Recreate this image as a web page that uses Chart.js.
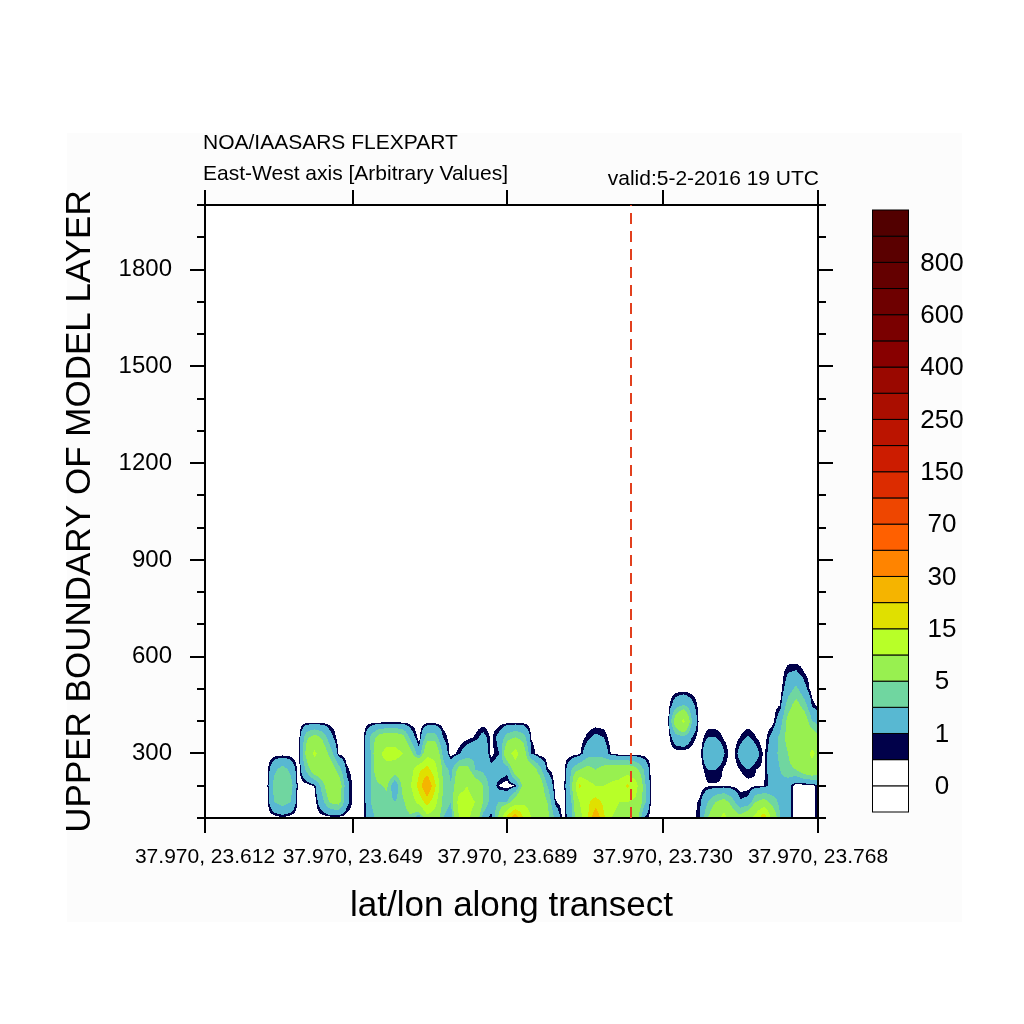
<!DOCTYPE html>
<html>
<head>
<meta charset="utf-8">
<script src="https://cdn.jsdelivr.net/npm/chart.js@4"></script>
<style>
  html, body { margin: 0; padding: 0; background: #fff; }
  canvas { display: block; }
</style>
</head>
<body>
<canvas id="transectChart" width="1024" height="1024"></canvas>
<script>
// altitude of each grid row (upper boundary of model layer)
const altitudes = [100, 150, 200, 250, 300, 350, 400, 450, 500, 550]

// concentration along the transect (78 grid columns) for every altitude row
const conc100 = [0,0,0,0,0,0,0,0,0,0, 0.3,0,0,0,0,0,0,0,0,0, 0,2.5,3.5,3.5,4,4,4.5,0.8,8,7,
  3,2,10,11,8,2,0.5,6,17,25, 15,10,8,6,2.5,0,2.5,8,14,25, 16,10,9,8,7,1,0,0,0,0,
  0,0,1,5,8,12,7,6,8,12, 19,8,3,1.5,0,0,0,1.4]
const conc150 = [0,0,0,0,0,0,0,0,0,3, 4,3,0,0,0,2.5,5.5,6,1.5,0, 0,3,4,4,3,4.5,7,12,17,12,
  4,3,12,12,10,5,2,3,3,7, 9,8,7,5,0.6,0,3,10,14,17, 14,11,10,10,9,4,0,0,0,0,
  0,0,0.7,3,5,6,4,1.2,1.5,5, 6,4,2.5,1.5,0,0,0,1.4]
const conc200 = [0,0,0,0,0,0,0,0,0,4, 4.5,4,0,0,0.6,4,8,7,1.5,0, 0,3,4.5,5.5,0.8,6,10,17,26,16,
  5,3,8,10,7,5,2,0.4,0,0.5, 6,8,7,3,0,0,4,16,12,10, 10,11,12,16,12,4,0,0,0,0,
  0,0,0,0.4,0.4,0.4,0.3,0,0.1,0.4, 0.5,1.5,2.5,1.5,0,0,0,1.4]
const conc250 = [0,0,0,0,0,0,0,0,0,2.5, 4,2.5,0,3.5,7,8,7,4,0.7,0, 0,3,8,8,7,7,8,14,17,12,
  4,2.5,6,6,3,2.5,1.5,2,1.5,7, 8,7,4,0.6,0,0,3,5,6,5, 6,7,7,7,6,3,0,0,0,0,
  0,0,0,1,1,0.4,0,0.5,1,0.5, 0.3,2,3,4.5,5,7,8,6]
const conc300 = [0,0,0,0,0,0,0,0,0,0, 0,0,0,6,11,7,4,0.3,0,0, 0,3,9,12,12,10,6,1.5,8,8,
  2.5,0,0.8,2,2.5,2.5,0.2,1,8,12, 7,1,0,0,0,0,0,0.3,2,2.5, 2,0.3,0,0,0,0,0,0,0,0,
  0,0,0,3,2.7,1.1,0,1.5,2.8,1.5, 0.3,2,3.5,5,7,8,11,8]
const conc350 = [0,0,0,0,0,0,0,0,0,0, 0,0,0,4.5,6,4.5,1.5,0,0,0, 0,3.5,6,7,7,6,2,0,4,4,
  1,0,0,0.2,0.6,1.5,0.3,1.5,4,5, 4,0.4,0,0,0,0,0,0,0.7,1.3, 1,0,0,0,0,0,0,0,0,2,
  2.5,1,0,1,1,0.4,0,0.5,1.1,0.5, 0,1.5,3.5,6,7,8,7,5]
const conc400 = [0,0,0,0,0,0,0,0,0,0, 0,0,0,0,0,0,0,0,0,0, 0,0,0,0,0,0,0,0,0,0,
  0,0,0,0,0,0,0,0,0,0, 0,0,0,0,0,0,0,0,0,0, 0,0,0,0,0,0,0,0,0,7,
  11,3,0,0,0,0,0,0,0,0, 0,0,2,6,7,7,3,2]
const conc450 = [0,0,0,0,0,0,0,0,0,0, 0,0,0,0,0,0,0,0,0,0, 0,0,0,0,0,0,0,0,0,0,
  0,0,0,0,0,0,0,0,0,0, 0,0,0,0,0,0,0,0,0,0, 0,0,0,0,0,0,0,0,0,2,
  3,1.5,0,0,0,0,0,0,0,0, 0,0,0.5,4,6,4,0.8,0]
const conc500 = [0,0,0,0,0,0,0,0,0,0, 0,0,0,0,0,0,0,0,0,0, 0,0,0,0,0,0,0,0,0,0,
  0,0,0,0,0,0,0,0,0,0, 0,0,0,0,0,0,0,0,0,0, 0,0,0,0,0,0,0,0,0,0,
  0,0,0,0,0,0,0,0,0,0, 0,0,0,2,3.5,1.5,0,0]
const conc550 = [0,0,0,0,0,0,0,0,0,0, 0,0,0,0,0,0,0,0,0,0, 0,0,0,0,0,0,0,0,0,0,
  0,0,0,0,0,0,0,0,0,0, 0,0,0,0,0,0,0,0,0,0, 0,0,0,0,0,0,0,0,0,0,
  0,0,0,0,0,0,0,0,0,0, 0,0,0,1,1.2,0.5,0,0]

// x axis (grid column index) and its tick labels
const xMin = 0.34
const xMax = 76.72
const lonTickPos = [0.34, 18.75, 38.03, 57.38, 76.72]
const lonTickLabels = ['37.970, 23.612', '37.970, 23.649', '37.970, 23.689', '37.970, 23.730', '37.970, 23.768']
const transectMarker = 53.42

// y axis
const yMin = 100
const yMax = 2000
const yMajorTicks = [300, 600, 900, 1200, 1500, 1800]
const yMinorTicks = [100, 200, 400, 500, 700, 800, 1000, 1100, 1300, 1400, 1600, 1700, 1900, 2000]

// contour levels and colours (one more colour than levels)
const levels = [0, 0.5, 1, 3, 5, 10, 15, 20, 30, 50, 70, 100, 150, 200, 250, 300, 400, 500, 600, 700, 800, 900]
const levelColors = ['#ffffff', '#ffffff', '#01014a', '#58b8d2', '#70d6a0', '#98f050', '#b8ff28', '#e0e000',
  '#f5b400', '#ff8400', '#ff6000', '#ee4600', '#dc2c00', '#cc1c00', '#bb1400', '#aa0e00', '#9a0800',
  '#880000', '#7a0000', '#6e0000', '#640000', '#5a0000', '#520000']
const colorbarLabels = [0, 1, 5, 15, 30, 70, 150, 250, 400, 600, 800]

const rows = [conc100, conc150, conc200, conc250, conc300, conc350, conc400, conc450, conc500, conc550]

function nodeValue(i, r) {
    if (r < 0 || r >= rows.length || i < 0 || i >= rows[r].length) return 0
    return rows[r][i]
}

function fieldAt(x, alt) {
    let r = (alt - altitudes[0]) / (altitudes[1] - altitudes[0])
    if (r < 0) r = 0
    const i0 = Math.floor(x), r0 = Math.floor(r)
    const fx = x - i0, fy = r - r0
    return (1 - fx) * (1 - fy) * nodeValue(i0, r0) + fx * (1 - fy) * nodeValue(i0 + 1, r0) +
        (1 - fx) * fy * nodeValue(i0, r0 + 1) + fx * fy * nodeValue(i0 + 1, r0 + 1)
}

function binOf(v) {
    let k = 0
    while (k < levels.length && v >= levels[k]) k++
    return k
}

const rgbColors = levelColors.map(c => [parseInt(c.slice(1, 3), 16), parseInt(c.slice(3, 5), 16), parseInt(c.slice(5, 7), 16)])

const fieldPlugin = {
    id: 'field',
    beforeDraw(chart) {
        const ctx = chart.ctx
        ctx.save()
        ctx.fillStyle = '#ffffff'
        ctx.fillRect(0, 0, chart.width, chart.height)
        ctx.fillStyle = '#fcfcfc'
        ctx.fillRect(67, 133, 895, 789)

        const area = chart.chartArea
        const w = Math.round(area.right - area.left)
        const h = Math.round(area.bottom - area.top)
        const off = document.createElement('canvas')
        off.width = w
        off.height = h
        const octx = off.getContext('2d')
        const img = octx.createImageData(w, h)
        const xs = chart.scales.x, ys = chart.scales.y
        const colX = []
        for (let px = 0; px < w; px++) colX.push(xs.getValueForPixel(area.left + px + 0.5))
        for (let py = 0; py < h; py++) {
            const alt = ys.getValueForPixel(area.top + py + 0.5)
            for (let px = 0; px < w; px++) {
                const c = rgbColors[binOf(fieldAt(colX[px], alt))]
                const o = (py * w + px) * 4
                img.data[o] = c[0]
                img.data[o + 1] = c[1]
                img.data[o + 2] = c[2]
                img.data[o + 3] = 255
            }
        }
        octx.putImageData(img, 0, 0)
        ctx.drawImage(off, area.left, area.top)
        ctx.restore()
    },
    afterDraw(chart) {
        const ctx = chart.ctx
        const area = chart.chartArea
        const ys = chart.scales.y
        ctx.save()

        // minor ticks on both y axes
        ctx.strokeStyle = '#000'
        ctx.lineWidth = 2
        yMinorTicks.forEach(v => {
            const py = Math.round(ys.getPixelForValue(v))
            ctx.beginPath()
            ctx.moveTo(area.left - 8, py)
            ctx.lineTo(area.left, py)
            ctx.moveTo(area.right, py)
            ctx.lineTo(area.right + 8, py)
            ctx.stroke()
        })

        // colour bar
        const cbLeft = 872, cbWidth = 36, cbBottom = 812, cbTop = 210
        const boxH = (cbBottom - cbTop) / levelColors.length
        ctx.lineWidth = 1
        levelColors.forEach((c, k) => {
            const y0 = cbBottom - (k + 1) * boxH
            ctx.fillStyle = c
            ctx.fillRect(cbLeft, y0, cbWidth, boxH)
            ctx.strokeStyle = '#000'
            ctx.strokeRect(cbLeft + 0.5, y0, cbWidth, boxH)
        })
        ctx.fillStyle = '#000'
        ctx.font = '26px "Liberation Sans", Arial, sans-serif'
        ctx.textAlign = 'center'
        ctx.textBaseline = 'middle'
        colorbarLabels.forEach(v => {
            const j = levels.indexOf(v)
            ctx.fillText(String(v), 942, cbBottom - (j + 1) * boxH + 1)
        })

        // titles
        ctx.font = '21px "Liberation Sans", Arial, sans-serif'
        ctx.textBaseline = 'alphabetic'
        ctx.textAlign = 'left'
        ctx.fillText('NOA/IAASARS FLEXPART', 203, 149)
        ctx.fillText('East-West axis [Arbitrary Values]', 203, 180)
        ctx.textAlign = 'right'
        ctx.fillText('valid:5-2-2016 19 UTC', 819, 185)
        ctx.restore()
    }
}

const axisGrid = { drawOnChartArea: false, drawTicks: true, tickLength: 15, lineWidth: 2, color: '#000' }
const axisBorder = { display: true, color: '#000', width: 2 }

Chart.defaults.font.family = '"Liberation Sans", Arial, sans-serif'
Chart.defaults.color = '#000'

new Chart(document.getElementById('transectChart'), {
    type: 'scatter',
    data: {
        datasets: [{
            data: [{x: transectMarker, y: yMin}, {x: transectMarker, y: yMax}],
            showLine: true,
            borderColor: '#e2401e',
            borderWidth: 2,
            borderDash: [11, 7],
            pointRadius: 0
        }]
    },
    options: {
        responsive: false,
        animation: false,
        devicePixelRatio: 1,
        layout: { padding: 0 },
        plugins: { legend: { display: false }, tooltip: { enabled: false } },
        scales: {
            x: {
                type: 'linear', position: 'bottom', min: xMin, max: xMax,
                afterBuildTicks: s => { s.ticks = lonTickPos.map(v => ({value: v})) },
                afterFit: s => { s.height = 206 },
                ticks: {
                    autoSkip: false, maxRotation: 0, minRotation: 0, padding: 12,
                    font: { size: 21 },
                    callback: (v, i) => lonTickLabels[i]
                },
                grid: axisGrid,
                border: axisBorder,
                title: { display: true, text: 'lat/lon along transect', font: { size: 35 }, padding: { top: 0, bottom: 97 } }
            },
            x2: {
                type: 'linear', axis: 'x', position: 'top', min: xMin, max: xMax,
                afterBuildTicks: s => { s.ticks = lonTickPos.map(v => ({value: v})) },
                afterFit: s => { s.height = 205 },
                ticks: { display: false },
                grid: axisGrid,
                border: axisBorder
            },
            y: {
                type: 'linear', position: 'left', min: yMin, max: yMax,
                afterBuildTicks: s => { s.ticks = yMajorTicks.map(v => ({value: v})) },
                afterFit: s => { s.width = 205 },
                ticks: { padding: 18, font: { size: 24 }, callback: v => String(v) },
                grid: axisGrid,
                border: axisBorder,
                title: { display: true, text: 'UPPER BOUNDARY OF MODEL LAYER', font: { size: 35 }, padding: { top: 59, bottom: 0 } }
            },
            y2: {
                type: 'linear', axis: 'y', position: 'right', min: yMin, max: yMax,
                afterBuildTicks: s => { s.ticks = yMajorTicks.map(v => ({value: v})) },
                afterFit: s => { s.width = 206 },
                ticks: { display: false },
                grid: axisGrid,
                border: axisBorder
            }
        }
    },
    plugins: [fieldPlugin]
})
</script>
</body>
</html>
